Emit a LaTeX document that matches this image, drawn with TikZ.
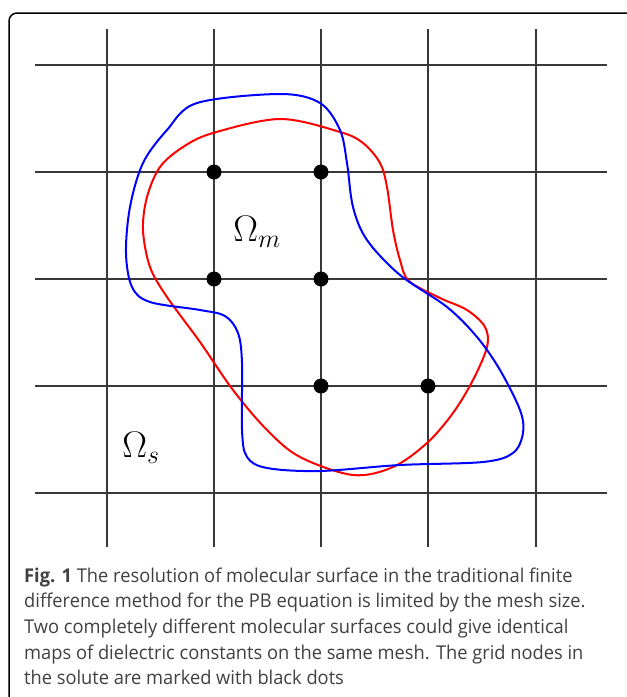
\RequirePackage{fix-cm}
\documentclass[tikz,border=0pt]{standalone}
\usepackage{fontspec}
\newfontfamily\capfont[FakeStretch=0.962]{Open Sans}
\usetikzlibrary{positioning}
\definecolor{gridgray}{HTML}{383838}
\definecolor{captext}{HTML}{404040}
\definecolor{surfblue}{HTML}{0000FF}
\definecolor{surfred}{HTML}{FF0000}

\begin{document}
\begin{tikzpicture}[x=1pt, y=-1pt,
  gridline/.style={line width=1.6pt, draw=gridgray},
  surfA/.style={line width=2pt, draw=surfblue},
  surfB/.style={line width=2pt, draw=surfred},
  solutedot/.style={circle, fill=black, inner sep=0pt, minimum size=15pt},
  domlabel/.style={font=\fontsize{37}{40}\selectfont, inner sep=0pt},
  capline/.style={font=\capfont\fontsize{19}{24}\selectfont\color{captext}, anchor=base west, inner sep=0pt},
]
\useasboundingbox (0,0) rectangle (627,697);
% open frame round the figure
\draw[line width=1.5pt, rounded corners=8pt] (9,13) rectangle (634,704);

% mesh: pitch 107 px
\def\gL{35}\def\gR{607}\def\gT{29}\def\gB{547}
\foreach \v in {107,214,321,428,536} {
  \draw[gridline] (\v,\gT) -- (\v,\gB);
}
\foreach \h in {65,172,279,386,493} {
  \draw[gridline] (\gL,\h) -- (\gR,\h);
}

% second molecular surface (red)
\draw[surfB] plot[smooth cycle, tension=0.55] coordinates {
  (280,119) (340,132) (363,143) (380,163) (387,187) (393,230) (400,260)
  (409,281) (440,298) (467,310) (485,327) (487,347) (473,380) (453,413)
  (427,443) (393,467) (353,475) (300,457) (267,430) (233,390) (200,342)
  (167,297) (150,267) (143,230) (147,197) (160,167) (183,147) (213,133)
};
% first molecular surface (blue)
\draw[surfA] plot[smooth cycle, tension=0.55] coordinates {
  (280,94) (320,103) (340,130) (347,163) (353,207) (367,240) (400,275)
  (447,307) (477,337) (500,370) (520,410) (523,433) (513,453) (483,462)
  (400,465) (320,471) (267,468) (247,457) (242,430) (242,363) (238,333)
  (225,316) (200,310) (150,302) (132,287) (126,253) (130,207) (143,163)
  (167,130) (197,103)
};

% grid nodes inside the solute
\node[solutedot] (d1) at (214,172) {};
\node[solutedot] (d2) at (321,172) {};
\node[solutedot] (d3) at (214,279) {};
\node[solutedot] (d4) at (321,279) {};
\node[solutedot] (d5) at (321,386) {};
\node[solutedot] (d6) at (428,386) {};

\node[domlabel] (omm) at (257,232) {$\Omega_m$};
\node[domlabel] (oms) at (141,448) {$\Omega_s$};

% caption
\node[capline] (cap1) at (24,582) {\textbf{Fig. 1} The resolution of molecular surface in the traditional finite};
\node[capline] (cap2) at (24,607.7) {difference method for the PB equation is limited by the mesh size.};
\node[capline] (cap3) at (24,633.4) {Two completely different molecular surfaces could give identical};
\node[capline] (cap4) at (24,659.1) {maps of dielectric constants on the same mesh. The grid nodes in};
\node[capline] (cap5) at (24,684.8) {the solute are marked with black dots};
\end{tikzpicture}
\end{document}
